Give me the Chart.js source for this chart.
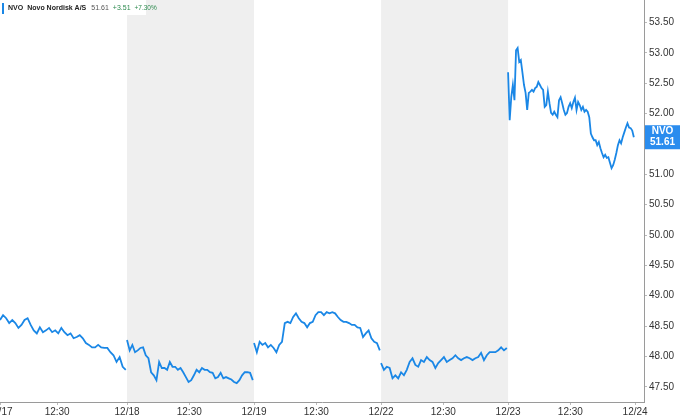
<!DOCTYPE html>
<html lang="en">
<head>
    <meta charset="UTF-8">
    <title>NVO intraday</title>
    <script src="https://cdn.jsdelivr.net/npm/chart.js"></script>
    <style>
        html, body { margin: 0; padding: 0; background: #fff; }
        #wrap { width: 680px; height: 415px; }
    </style>
</head>
<body>
<div id="wrap"><canvas id="priceChart" width="680" height="415"></canvas></div>
<script>
    // prices per session (evenly spaced inside each day)
    const day1217 = [48.60,48.68,48.63,48.55,48.60,48.55,48.47,48.52,48.60,48.63,48.52,48.43,48.38,48.48,48.40,48.43,48.47,48.40,48.43,48.38,48.47,48.40,48.35,48.38,48.30,48.32,48.35,48.30,48.22,48.19,48.15,48.15,48.19,48.15,48.14,48.14,48.07,48.02,47.91,47.99,47.83,47.78];
    const day1218 = [48.27,48.10,48.19,48.07,48.10,48.14,48.15,48.02,47.97,47.74,47.69,47.61,47.91,47.81,47.81,47.78,47.91,47.83,47.83,47.78,47.81,47.74,47.66,47.58,47.61,47.69,47.78,47.74,47.81,47.78,47.78,47.74,47.73,47.64,47.66,47.73,47.64,47.66,47.64,47.62,47.58,47.56,47.61,47.69,47.74,47.74,47.73,47.61];
    const day1219 = [48.22,48.07,48.24,48.19,48.22,48.15,48.19,48.14,48.07,48.19,48.24,48.55,48.57,48.55,48.65,48.71,48.63,48.57,48.55,48.48,48.55,48.57,48.68,48.73,48.73,48.68,48.73,48.71,48.73,48.71,48.65,48.60,48.57,48.57,48.55,48.52,48.52,48.48,48.47,48.32,48.38,48.43,48.30,48.24,48.22,48.10];
    const day1222 = [47.89,47.78,47.83,47.81,47.64,47.69,47.64,47.74,47.69,47.78,47.91,47.97,47.86,47.83,47.94,47.91,47.99,47.94,47.91,47.81,47.89,47.94,47.99,47.91,47.94,47.97,48.02,47.97,47.94,47.97,47.99,47.97,47.94,47.97,47.99,48.06,47.94,48.02,48.07,48.07,48.07,48.10,48.15,48.10,48.14];
    const day1223 = [52.68,51.89,52.27,52.47,52.22,53.04,53.08,52.85,52.88,52.68,52.47,52.34,52.06,52.34,52.36,52.39,52.36,52.42,52.44,52.52,52.47,52.42,52.39,52.11,52.14,52.36,52.17,52.01,51.98,52.03,51.98,51.94,52.22,52.27,52.17,52.06,51.98,52.01,52.11,52.17,52.09,52.19,52.26,52.06,52.19,52.14,52.06,52.11,52.03,52.06,52.03,51.94,51.67,51.61,51.56,51.56,51.48,51.53,51.43,51.35,51.28,51.32,51.27,51.28,51.19,51.10,51.15,51.24,51.35,51.48,51.56,51.51,51.61,51.69,51.77,51.84,51.77,51.76,51.72,51.61];

    const sessions = [day1217, day1218, day1219, day1222, day1223];
    const shadedDays = [1, 3];   // 12/18 and 12/22

    // x axis is in trading days, 0 = open of 12/17
    const xTickValues = [0, 0.45, 1, 1.49, 2, 2.49, 3, 3.49, 4, 4.49, 5];
    const xTickLabels = ['12/17', '12:30', '12/18', '12:30', '12/19', '12:30', '12/22', '12:30', '12/23', '12:30', '12/24'];

    const ticker = 'NVO';
    const companyName = 'Novo Nordisk A/S';
    const lastPrice = 51.61;
    const change = '+3.51';
    const changePct = '+7.30%';

    const lineColor = '#1a87e6';
    const tickFont = { family: 'Liberation Sans', size: 10 };

    const datasets = sessions.map((vals, d) => ({
        data: vals.map((v, i) => ({ x: d + i / (vals.length - 1) * 0.99, y: v })),
        borderColor: lineColor,
        borderWidth: 1.8,
        pointRadius: 0,
        tension: 0,
        fill: false
    }));

    const bandsPlugin = {
        id: 'bands',
        beforeDraw(chart) {
            const { ctx, chartArea, scales } = chart;
            ctx.save();
            ctx.fillStyle = '#fff';
            ctx.fillRect(0, 0, chart.width, chart.height);
            ctx.fillStyle = '#efefef';
            shadedDays.forEach(d => {
                const x0 = scales.x.getPixelForValue(d);
                const x1 = scales.x.getPixelForValue(d + 1);
                ctx.fillRect(x0, chartArea.top, x1 - x0, chartArea.bottom - chartArea.top);
            });
            ctx.restore();
        }
    };

    const labelsPlugin = {
        id: 'labels',
        afterDraw(chart) {
            const { ctx, scales, chartArea } = chart;
            ctx.save();
            // header box
            ctx.fillStyle = '#fff';
            ctx.fillRect(0, 0, 146, 15);
            ctx.fillStyle = lineColor;
            ctx.fillRect(2, 3, 2, 11);
            ctx.textBaseline = 'middle';
            ctx.textAlign = 'left';
            let x = 8;
            const yMid = 8.5;
            ctx.font = 'bold 7px "Liberation Sans"';
            ctx.fillStyle = '#222';
            ctx.fillText(ticker, x, yMid);
            x += ctx.measureText(ticker).width + 4;
            ctx.fillText(companyName, x, yMid);
            x += ctx.measureText(companyName).width + 5;
            ctx.font = '7px "Liberation Sans"';
            ctx.fillStyle = '#555';
            ctx.fillText(lastPrice.toFixed(2), x, yMid);
            x += ctx.measureText(lastPrice.toFixed(2)).width + 4;
            ctx.fillStyle = '#2c8a4e';
            ctx.fillText(change, x, yMid);
            x += ctx.measureText(change).width + 4;
            ctx.font = '6.5px "Liberation Sans"';
            ctx.fillText(changePct, x, yMid);

            // last price tag on the right axis
            const py = scales.y.getPixelForValue(lastPrice);
            const left = chartArea.right + 1;
            ctx.fillStyle = '#2a8cee';
            ctx.fillRect(left, py - 12, chart.width - left, 24);
            ctx.fillStyle = '#fff';
            ctx.textAlign = 'center';
            const cx = left + (chart.width - left) / 2;
            ctx.font = 'bold 10px "Liberation Sans"';
            ctx.fillText(ticker, cx, py - 5.5);
            ctx.fillText(lastPrice.toFixed(2), cx, py + 5.5);
            ctx.restore();
        }
    };

    new Chart(document.getElementById('priceChart'), {
        type: 'line',
        data: { datasets },
        options: {
            responsive: false,
            animation: false,
            events: [],
            layout: { padding: 0, autoPadding: false },
            plugins: { legend: { display: false }, tooltip: { enabled: false } },
            scales: {
                x: {
                    type: 'linear',
                    min: 0,
                    max: 5.07,
                    afterBuildTicks: s => { s.ticks = xTickValues.map(v => ({ value: v })); },
                    afterFit: s => { s.height = 13; s.paddingLeft = 0; s.paddingRight = 0; s.paddingTop = 0; s.paddingBottom = 0; },
                    border: { display: true, color: '#9a9a9a', width: 1 },
                    grid: { drawOnChartArea: false, drawTicks: true, tickLength: 3, color: '#bbb' },
                    ticks: {
                        autoSkip: false,
                        maxRotation: 0,
                        padding: 1,
                        color: '#333',
                        font: tickFont,
                        callback: (v, i) => xTickLabels[i]
                    }
                },
                y: {
                    type: 'linear',
                    position: 'right',
                    min: 47.25,
                    max: 53.87,
                    afterFit: s => { s.width = 36; s.paddingTop = 0; s.paddingBottom = 0; s.paddingLeft = 0; s.paddingRight = 0; },
                    border: { display: true, color: '#9a9a9a', width: 1 },
                    grid: { drawOnChartArea: false, drawTicks: true, tickLength: 3, color: '#bbb' },
                    ticks: {
                        stepSize: 0.5,
                        includeBounds: false,
                        padding: 2,
                        color: '#333',
                        font: tickFont,
                        callback: v => v.toFixed(2)
                    }
                }
            }
        },
        plugins: [bandsPlugin, labelsPlugin]
    });
</script>
</body>
</html>
